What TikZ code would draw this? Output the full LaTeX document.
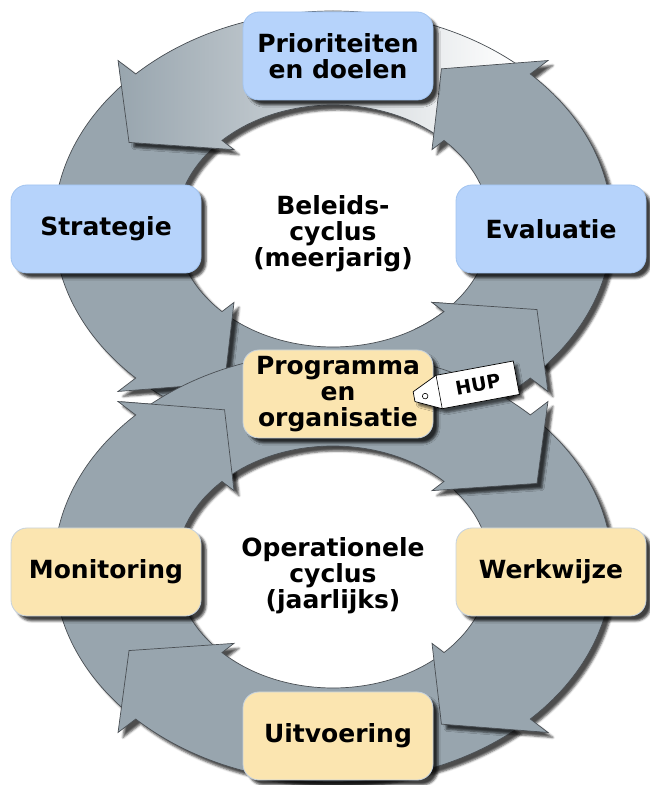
\documentclass[tikz,border=0pt]{standalone}
\usepackage{fontspec}
\setmainfont{DejaVu Sans}
\usetikzlibrary{positioning,shadows.blur}
\definecolor{ringgray}{HTML}{98A5AE}
\definecolor{ringline}{HTML}{4A4F54}
\definecolor{beleidblue}{HTML}{B6D3FB}
\definecolor{beleidline}{HTML}{A2C4F0}
\definecolor{operbeige}{HTML}{FBE5B0}
\definecolor{operline}{HTML}{C6D2DE}
\tikzstyle{ringedge} = [fill=ringgray, draw=ringline, line width=0.7pt]
\tikzstyle{ringarrow} = [ringedge, blur shadow={shadow xshift=5pt, shadow yshift=-5pt, shadow opacity=70}]
\tikzstyle{cyclebox} = [rectangle, rounded corners=16pt, minimum width=190pt, minimum height=88pt, inner sep=2pt, text centered, align=center, line width=0.8pt, font=\fontsize{25}{26}\selectfont\bfseries, blur shadow={shadow xshift=5pt, shadow yshift=-5pt, shadow opacity=75}]
\tikzstyle{beleid} = [cyclebox, fill=beleidblue, draw=beleidline]
\tikzstyle{oper} = [cyclebox, fill=operbeige, draw=operline]
\tikzstyle{cycletext} = [align=center, font=\fontsize{25}{26}\selectfont\bfseries]
\tikzstyle{tag} = [fill=white, draw=black, line width=0.7pt, blur shadow={shadow xshift=4pt, shadow yshift=-4pt, shadow opacity=60}]
% one curved arrow of a ring: tail angle, back of head, tip
\newcommand{\ringpath}[3]{(#1:279 and 215) arc[start angle=#1, end angle=#2, x radius=279, y radius=215] -- (#2:304 and 234) -- (#3:231 and 178) -- (#2:140 and 108) -- (#2:157 and 121) arc[start angle=#2, end angle=#1, x radius=157, y radius=121] -- cycle}

\begin{document}
\begin{tikzpicture}[x=1pt,y=1pt]
  \useasboundingbox (0,0) rectangle (649,785);

  % beleidscyclus (counterclockwise)
  \begin{scope}[shift={(333,559)}]
    \foreach \tl/\bk/\tp in {229/315/332, 139/225/242}
      \filldraw[ringarrow] \ringpath{\tl}{\bk}{\tp};
    \filldraw[ringarrow, left color=ringgray, right color=white] \ringpath{49}{135}{152};
    \filldraw[ringarrow] \ringpath{-41}{45}{62};
    \begin{scope}
      \clip (0,0) -- (308:420) arc[start angle=308, end angle=350, radius=420] -- cycle;
      \filldraw[ringedge] \ringpath{229}{315}{332};
    \end{scope}
  \end{scope}

  % operationele cyclus (clockwise)
  \begin{scope}[shift={(333,218)}]
    \foreach \tl/\bk/\tp in {221/135/118, 311/225/208, 41/-45/-62, 131/45/28}
      \filldraw[ringarrow] \ringpath{\tl}{\bk}{\tp};
    \begin{scope}
      \clip (0,0) -- (100:420) arc[start angle=100, end angle=142, radius=420] -- cycle;
      \filldraw[ringedge] \ringpath{221}{135}{118};
    \end{scope}
  \end{scope}

  \node (Prioriteiten) [beleid] at (338,729) {Prioriteiten\\en doelen};
  \node (Strategie) [beleid] at (106,556) {Strategie};
  \node (Evaluatie) [beleid] at (551,556) {Evaluatie};
  \node (Programma) [oper] at (338,391) {Programma\\en\\organisatie};
  \node (Monitoring) [oper] at (106,213) {Monitoring};
  \node (Werkwijze) [oper] at (551,213) {Werkwijze};
  \node (Uitvoering) [oper] at (338,49) {Uitvoering};

  \node (Beleidscyclus) [cycletext] at (333,551) {Beleids-\\cyclus\\(meerjarig)};
  \node (Operationeel) [cycletext] at (333,209) {Operationele\\cyclus\\(jaarlijks)};

  % label HUP
  \begin{scope}[shift={(477,400)}, rotate=10.5]
    \filldraw[tag] (-38.5,17) -- (40,17) -- (40,-17) -- (-38.5,-17) -- (-64,-5) -- (-64,5) -- cycle;
    \draw[line width=0.6pt] (-38.5,17) -- (-38.5,-17);
    \draw[line width=0.6pt] (-53,-1.5) circle (2.8);
    \node (HUP) [transform shape, font=\fontsize{19}{19}\selectfont\bfseries] at (1,0) {HUP};
  \end{scope}
\end{tikzpicture}
\end{document}
